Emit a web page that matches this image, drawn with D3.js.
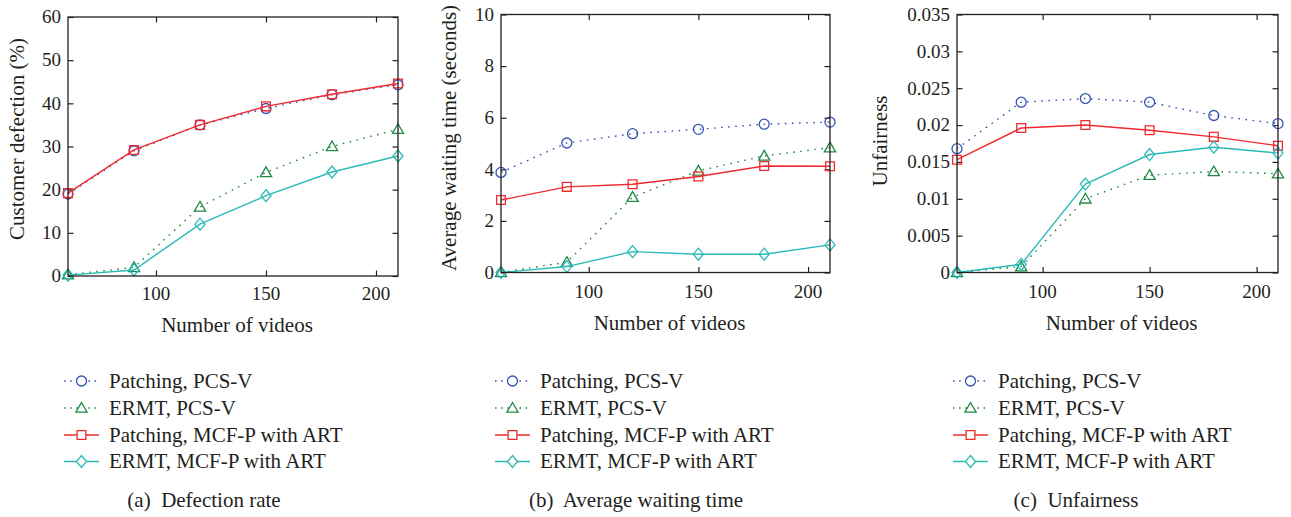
<!DOCTYPE html>
<html>
<head>
<meta charset="utf-8">
<script src="https://cdn.jsdelivr.net/npm/d3@7"></script>
<style>
  body { margin: 0; background: #fff; }
  svg text { font-family: "Liberation Serif", "Times New Roman", serif; fill: #231f20; }
</style>
</head>
<body>
<svg id="fig" width="1291" height="517"></svg>
<script>
// Number of videos (x axis, shared by all three panels)
const videoCounts = [60, 90, 120, 150, 180, 210];
const xTicks = [100, 150, 200];

const seriesNames = [
  "Patching, PCS-V",
  "ERMT, PCS-V",
  "Patching, MCF-P with ART",
  "ERMT, MCF-P with ART"
];

// (a) Customer defection (%)
const defectionPatchingPCSV = [19.0, 29.0, 35.0, 38.8, 42.0, 44.3];
const defectionErmtPCSV     = [0.3, 2.0, 16.0, 24.0, 30.0, 34.0];
const defectionPatchingMCFP = [19.2, 29.2, 35.0, 39.3, 42.1, 44.6];
const defectionErmtMCFP     = [0.2, 1.4, 12.0, 18.6, 24.1, 27.8];
const defectionTicks = [0, 10, 20, 30, 40, 50, 60];

// (b) Average waiting time (seconds)
const waitingPatchingPCSV = [3.88, 5.02, 5.38, 5.55, 5.75, 5.83];
const waitingErmtPCSV     = [0.0, 0.40, 2.92, 3.94, 4.52, 4.84];
const waitingPatchingMCFP = [2.81, 3.32, 3.42, 3.72, 4.13, 4.12];
const waitingErmtMCFP     = [0.0, 0.23, 0.81, 0.71, 0.71, 1.07];
const waitingTicks = [0, 2, 4, 6, 8, 10];

// (c) Unfairness
const unfairPatchingPCSV = [0.0168, 0.0231, 0.0236, 0.0231, 0.0213, 0.0202];
const unfairErmtPCSV     = [0.0, 0.0008, 0.0100, 0.0132, 0.0137, 0.0134];
const unfairPatchingMCFP = [0.0153, 0.0196, 0.0200, 0.0193, 0.0184, 0.0172];
const unfairErmtMCFP     = [0.0, 0.0011, 0.0120, 0.0160, 0.0170, 0.0162];
const unfairTicks = [0, 0.005, 0.01, 0.015, 0.02, 0.025, 0.03, 0.035];
const unfairTickLabels = ["0", "0.005", "0.01", "0.015", "0.02", "0.025", "0.03", "0.035"];

// Series styling: colour, dash pattern, marker shape
const styles = [
  { color: "#3453b0", dash: "1.6,5.5", marker: "circle" },
  { color: "#1f8a44", dash: "1.6,5.5", marker: "triangle" },
  { color: "#ef2a2e", dash: null,      marker: "square" },
  { color: "#2bbab8", dash: null,      marker: "diamond" }
];

function markerPath(type) {
  switch (type) {
    case "circle": {
      const r = 5;
      return `M${r},0A${r},${r} 0 1,1 ${-r},0A${r},${r} 0 1,1 ${r},0Z`;
    }
    case "triangle":
      return "M0,-5.5L5.6,4.2L-5.6,4.2Z";
    case "square":
      return "M-4.4,-4.4H4.4V4.4H-4.4Z";
    case "diamond":
      return "M0,-6L5,0L0,6L-5,0Z";
  }
}

const panels = [
  {
    left: 68, right: 398, top: 17, bottom: 276,
    yDomain: [0, 60], yTicks: defectionTicks, yLabels: defectionTicks.map(String),
    series: [defectionPatchingPCSV, defectionErmtPCSV, defectionPatchingMCFP, defectionErmtMCFP],
    yTitle: "Customer defection (%)", yTitleX: 24, yTitleY: 139,
    xTickBase: 300, xTitleBase: 332,
    legendX: 64, caption: "(a)  Defection rate", captionX: 204
  },
  {
    left: 501, right: 830, top: 14.5, bottom: 272.5,
    yDomain: [0, 10], yTicks: waitingTicks, yLabels: waitingTicks.map(String),
    series: [waitingPatchingPCSV, waitingErmtPCSV, waitingPatchingMCFP, waitingErmtMCFP],
    yTitle: "Average waiting time (seconds)", yTitleX: 456, yTitleY: 138,
    xTickBase: 298, xTitleBase: 330,
    legendX: 495, caption: "(b)  Average waiting time", captionX: 636
  },
  {
    left: 957, right: 1278, top: 14.5, bottom: 272.5,
    yDomain: [0, 0.035], yTicks: unfairTicks, yLabels: unfairTickLabels,
    series: [unfairPatchingPCSV, unfairErmtPCSV, unfairPatchingMCFP, unfairErmtMCFP],
    yTitle: "Unfairness", yTitleX: 886.5, yTitleY: 141,
    xTickBase: 298, xTitleBase: 329.5,
    legendX: 953, caption: "(c)  Unfairness", captionX: 1076
  }
];

const svg = d3.select("#fig");
const tickFont = 19, titleFont = 21, legendFont = 21;

panels.forEach(p => {
  const g = svg.append("g");
  const x = d3.scaleLinear().domain([60, 210]).range([p.left, p.right]);
  const y = d3.scaleLinear().domain(p.yDomain).range([p.bottom, p.top]);

  // Inward ticks on all four sides
  const tickLen = -5.5;
  const styleAxis = sel => {
    sel.select(".domain").remove();
    sel.selectAll(".tick line").attr("stroke", "#231f20").attr("stroke-width", 1.2);
  };

  g.append("g").attr("transform", `translate(0,${p.bottom})`)
    .call(d3.axisBottom(x).tickValues(xTicks).tickSize(tickLen).tickFormat(""))
    .call(styleAxis);
  g.append("g").attr("transform", `translate(0,${p.top})`)
    .call(d3.axisTop(x).tickValues(xTicks).tickSize(tickLen).tickFormat(""))
    .call(styleAxis);
  g.append("g").attr("transform", `translate(${p.left},0)`)
    .call(d3.axisLeft(y).tickValues(p.yTicks).tickSize(tickLen).tickFormat(""))
    .call(styleAxis);
  g.append("g").attr("transform", `translate(${p.right},0)`)
    .call(d3.axisRight(y).tickValues(p.yTicks).tickSize(tickLen).tickFormat(""))
    .call(styleAxis);

  // Tick labels
  g.selectAll(".ylab").data(p.yTicks).join("text")
    .attr("x", p.left - 7).attr("y", d => y(d) + 6.3)
    .attr("text-anchor", "end").attr("font-size", tickFont)
    .text((d, i) => p.yLabels[i]);
  g.selectAll(".xlab").data(xTicks).join("text")
    .attr("x", d => x(d)).attr("y", p.xTickBase)
    .attr("text-anchor", "middle").attr("font-size", tickFont)
    .text(d => d);

  // Series lines and markers
  const line = d3.line().x((d, i) => x(videoCounts[i])).y(d => y(d));
  p.series.forEach((vals, si) => {
    const st = styles[si];
    g.append("path").datum(vals)
      .attr("d", line).attr("fill", "none")
      .attr("stroke", st.color).attr("stroke-width", 1.4)
      .attr("stroke-dasharray", st.dash);
    g.selectAll(null).data(vals).join("path")
      .attr("transform", (d, i) => `translate(${x(videoCounts[i])},${y(d)})`)
      .attr("d", markerPath(st.marker))
      .attr("fill", "none").attr("stroke", st.color).attr("stroke-width", 1.3);
  });

  // Frame
  g.append("rect")
    .attr("x", p.left).attr("y", p.top)
    .attr("width", p.right - p.left).attr("height", p.bottom - p.top)
    .attr("fill", "none").attr("stroke", "#231f20").attr("stroke-width", 1.3);

  // Axis titles
  g.append("text")
    .attr("x", (p.left + p.right) / 2 + 4).attr("y", p.xTitleBase)
    .attr("text-anchor", "middle").attr("font-size", titleFont)
    .text("Number of videos");
  g.append("text")
    .attr("transform", `translate(${p.yTitleX},${p.yTitleY}) rotate(-90)`)
    .attr("text-anchor", "middle").attr("font-size", titleFont)
    .text(p.yTitle);

  // Legend
  const rowY = [381, 408, 435, 461.5];
  seriesNames.forEach((name, si) => {
    const st = styles[si];
    const lg = g.append("g").attr("transform", `translate(${p.legendX},${rowY[si]})`);
    lg.append("line").attr("x1", 0).attr("x2", 35).attr("y1", 0).attr("y2", 0)
      .attr("stroke", st.color).attr("stroke-width", 1.4)
      .attr("stroke-dasharray", st.dash ? "1.6,4.5" : null);
    lg.append("path").attr("transform", "translate(17.5,0)")
      .attr("d", markerPath(st.marker))
      .attr("fill", "#fff").attr("stroke", st.color).attr("stroke-width", 1.3);
    lg.append("text").attr("x", 45).attr("y", 6.5)
      .attr("font-size", legendFont).text(name);
  });

  // Sub-caption
  g.append("text")
    .attr("x", p.captionX).attr("y", 507)
    .attr("text-anchor", "middle").attr("font-size", legendFont)
    .style("white-space", "pre")
    .text(p.caption);
});
</script>
</body>
</html>
